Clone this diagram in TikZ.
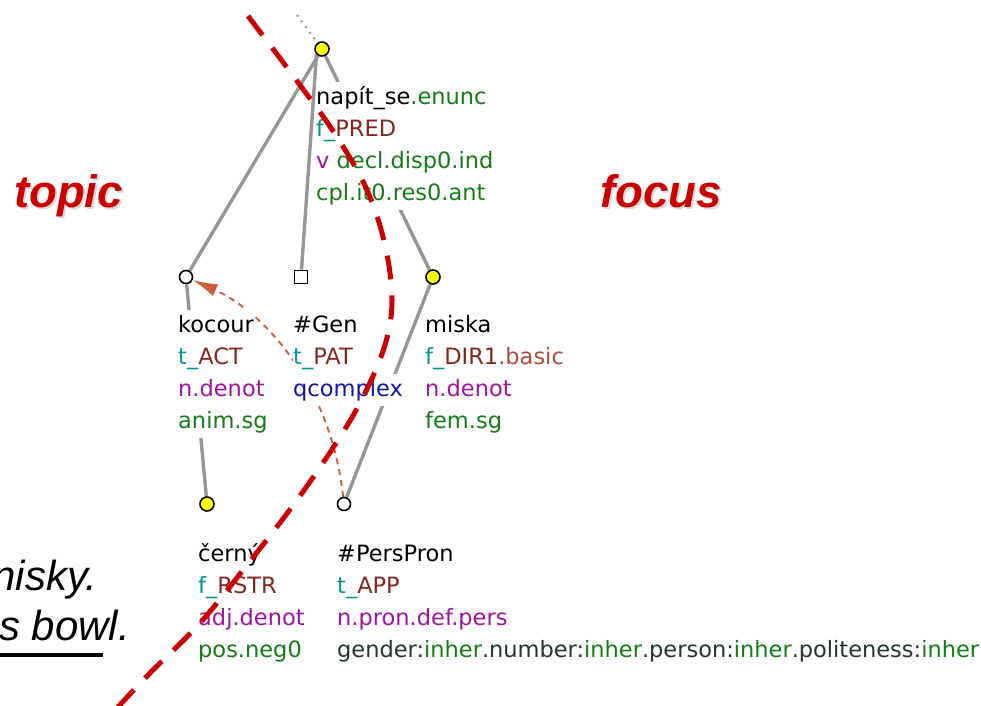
\documentclass[tikz,border=0pt]{standalone}
\usepackage{fontspec}
\setmainfont{DejaVu Sans}
\newfontfamily\arialf{Liberation Sans}
\usetikzlibrary{arrows.meta,backgrounds}
\definecolor{tfa}{RGB}{0,150,150}
\definecolor{fun}{RGB}{130,40,30}
\definecolor{sub}{RGB}{175,75,60}
\definecolor{grm}{RGB}{20,125,20}
\definecolor{pur}{RGB}{160,20,160}
\definecolor{blu}{RGB}{20,20,170}
\definecolor{attr}{RGB}{35,55,45}
\definecolor{edgec}{RGB}{150,150,150}
\definecolor{tfred}{RGB}{205,0,0}
\definecolor{corefc}{RGB}{205,95,60}
\definecolor{ylw}{RGB}{255,255,0}
\begin{document}
\begin{tikzpicture}[x=1pt,y=-1pt,
  row/.style={anchor=base west, inner sep=0pt, fill=white, text height=22pt, text depth=10pt, font=\fontsize{22.5}{27}\selectfont},
  tnode/.style={circle, draw=black, line width=1.6pt, minimum size=14pt, inner sep=0pt},
  snode/.style={rectangle, draw=black, line width=1.6pt, minimum size=13pt, inner sep=0pt, fill=white},
  edgeline/.style={draw=edgec, line width=3.4pt},
  dotline/.style={draw=black!40, line width=2pt, dash pattern=on 2pt off 5pt},
  coref/.style={draw=corefc, line width=1.9pt, dash pattern=on 6pt off 5pt, -{Latex[length=25pt,width=13pt]}},
  tfline/.style={draw=tfred, line width=5pt, dash pattern=on 24pt off 16pt},
  tf/.style={anchor=base west, inner sep=0pt, text=tfred, font=\arialf\bfseries\itshape\fontsize{45.5}{50}\selectfont},
  tfshadow/.style={tf, text=black!15},
  lt/.style={inner sep=0pt, font=\arialf\itshape\fontsize{42}{48}\selectfont}
]
\useasboundingbox (0,0) rectangle (981,705);

% tree nodes
\node[tnode, fill=ylw] (root) at (322,49) {};
\node[tnode, fill=white, minimum size=13pt] (kocour) at (186,277) {};
\node[snode] (gen) at (301,277) {};
\node[tnode, fill=ylw] (miska) at (433,277) {};
\node[tnode, fill=ylw] (cerny) at (207,504) {};
\node[tnode, fill=white, minimum size=13pt] (perspron) at (344,504) {};
\coordinate (top) at (297,15);

\begin{scope}[on background layer]
  \draw[dotline] (top) -- (root);
  \draw[edgeline] (root) -- (kocour);
  \draw[edgeline] (root.south west) -- (gen);
  \draw[edgeline] (root) -- (miska);
  \draw[edgeline] (kocour) -- (cerny);
  \draw[edgeline] (miska) -- (perspron);
  \draw[coref] (perspron) .. controls (330,380) and (260,310) .. (kocour);
\end{scope}

% labels
\node[row] (n1) at (316,104) {napít\_se\textcolor{grm}{.enunc}};
\node[row] (n2) at (316,136) {\textcolor{tfa}{f\_}\textcolor{fun}{PRED}};
\node[row] (n3) at (316,168) {\textcolor{pur}{v} \textcolor{grm}{decl.disp0.ind}};
\node[row] (n4) at (316,200) {\textcolor{grm}{cpl.it0.res0.ant}};

\node[row] (k1) at (178,332) {kocour};
\node[row] (k2) at (178,364) {\textcolor{tfa}{t\_}\textcolor{fun}{ACT}};
\node[row] (k3) at (178,396) {\textcolor{pur}{n.denot}};
\node[row] (k4) at (178,428) {\textcolor{grm}{anim.sg}};

\node[row] (g1) at (293,332) {\#Gen};
\node[row] (g2) at (293,364) {\textcolor{tfa}{t\_}\textcolor{fun}{PAT}};
\node[row] (g3) at (293,396) {\textcolor{blu}{qcomplex}};

\node[row] (m1) at (425,332) {miska};
\node[row] (m2) at (425,364) {\textcolor{tfa}{f\_}\textcolor{fun}{DIR1}\textcolor{sub}{.basic}};
\node[row] (m3) at (425,396) {\textcolor{pur}{n.denot}};
\node[row] (m4) at (425,428) {\textcolor{grm}{fem.sg}};

\node[row] (c1) at (198,561) {černý};
\node[row] (c2) at (198,593) {\textcolor{tfa}{f\_}\textcolor{fun}{RSTR}};
\node[row] (c3) at (198,625) {\textcolor{pur}{adj.denot}};
\node[row] (c4) at (198,657) {\textcolor{grm}{pos.neg0}};

\node[row] (p1) at (337,561) {\#PersPron};
\node[row] (p2) at (337,593) {\textcolor{tfa}{t\_}\textcolor{fun}{APP}};
\node[row] (p3) at (337,625) {\textcolor{pur}{n.pron.def.pers}};
\node[row] (p4) at (337,657) {\textcolor{attr}{gender:}\textcolor{grm}{inher}\textcolor{attr}{.number:}\textcolor{grm}{inher}\textcolor{attr}{.person:}\textcolor{grm}{inher}\textcolor{attr}{.politeness:}\textcolor{grm}{inher}};

% left sentence fragments
\node[lt, anchor=base east] (l1) at (97,590) {nisky.};
\node[lt, anchor=base west] (l2) at (-1,640) {s bowl.};
\draw[line width=3.5pt] (0,655) -- (103,655);

% topic / focus
\node[tfshadow] (topicsh) at (16,209.5) {topic};
\node[tfshadow] (focussh) at (602,209.5) {focus};
\node[tf] (topic) at (14,207) {topic};
\node[tf] (focus) at (600,207) {focus};

% topic-focus boundary
\draw[tfline] plot[smooth, tension=0.6] coordinates {(248,16) (300,85) (337,137) (367,190) (385,245) (392,300) (385,345) (365,393) (340,437) (297,500) (247,565) (200,623) (150,673) (118,707)};
\end{tikzpicture}
\end{document}
